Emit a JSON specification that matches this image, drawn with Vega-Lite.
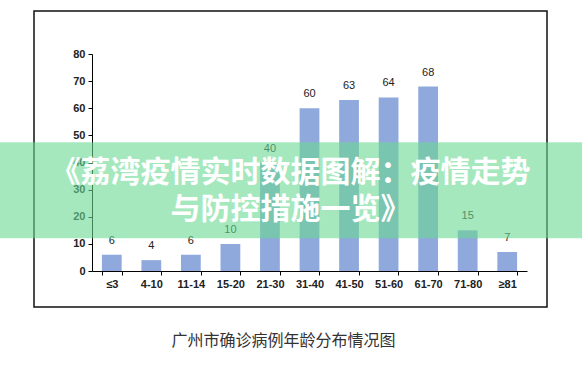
{
  "$schema": "https://vega.github.io/schema/vega-lite/v6.json",
  "width": 513,
  "height": 296,
  "autosize": "none",
  "padding": {"left": 34, "top": 11, "right": 35, "bottom": 73},
  "background": "white",
  "config": {
    "view": {"stroke": "#111111", "strokeWidth": 1.5},
    "font": "Liberation Sans"
  },
  "title": {
    "text": "广州市确诊病例年龄分布情况图",
    "orient": "bottom",
    "anchor": "middle",
    "offset": 26,
    "dx": -7,
    "font": "Noto Sans CJK SC",
    "fontSize": 16,
    "fontWeight": "normal",
    "color": "#333333"
  },
  "layer": [
    {
      "data": {
        "values": [
          {"age": "≤3", "cases": 6},
          {"age": "4-10", "cases": 4},
          {"age": "11-14", "cases": 6},
          {"age": "15-20", "cases": 10},
          {"age": "21-30", "cases": 40},
          {"age": "31-40", "cases": 60},
          {"age": "41-50", "cases": 63},
          {"age": "51-60", "cases": 64},
          {"age": "61-70", "cases": 68},
          {"age": "71-80", "cases": 15},
          {"age": "≥81", "cases": 7}
        ]
      },
      "encoding": {
        "x": {
          "field": "age",
          "type": "nominal",
          "sort": null,
          "scale": {"range": [58, 493], "paddingInner": 0.5, "paddingOuter": 0.25},
          "axis": {
            "title": null,
            "labelAngle": 0,
            "tickBand": "extent",
            "offset": -36,
            "domainColor": "#000000",
            "tickColor": "#000000",
            "tickSize": 4,
            "labelPadding": 3,
            "labelOverlap": false,
            "labelFont": "Liberation Sans",
            "labelFontSize": 11,
            "labelFontWeight": "bold",
            "labelColor": "#222222"
          }
        },
        "y": {
          "field": "cases",
          "type": "quantitative",
          "scale": {"domain": [0, 80], "range": [260, 43], "nice": false},
          "axis": {
            "title": null,
            "values": [0, 10, 20, 30, 40, 50, 60, 70, 80],
            "grid": false,
            "offset": -58,
            "labelOverlap": false,
            "labelFlush": false,
            "domainColor": "#000000",
            "tickColor": "#000000",
            "tickSize": 4,
            "labelPadding": 3,
            "labelFont": "Liberation Sans",
            "labelFontSize": 11,
            "labelFontWeight": "bold",
            "labelColor": "#222222"
          }
        }
      },
      "layer": [
        {"mark": {"type": "bar", "color": "#8FA9DC"}},
        {
          "mark": {"type": "text", "baseline": "middle", "dy": -14, "fontSize": 11, "color": "#222222", "font": "Liberation Sans"},
          "encoding": {"text": {"field": "cases", "type": "quantitative"}}
        }
      ]
    },
    {
      "data": {"values": [{}]},
      "mark": {"type": "rect", "color": "#6BD993", "opacity": 0.6, "x": -34, "x2": 548},
      "encoding": {
        "y": {
          "datum": 47.5,
          "type": "quantitative",
          "axis": {
            "title": null,
            "values": [0, 10, 20, 30, 40, 50, 60, 70, 80],
            "grid": false,
            "offset": -58,
            "labelOverlap": false,
            "labelFlush": false,
            "domainColor": "#000000",
            "tickColor": "#000000",
            "tickSize": 4,
            "labelPadding": 3,
            "labelFont": "Liberation Sans",
            "labelFontSize": 11,
            "labelFontWeight": "bold",
            "labelColor": "#222222"
          }
        },
        "y2": {"datum": 12.1}
      }
    },
    {
      "data": {"values": [{}]},
      "mark": {
        "type": "text",
        "align": "center",
        "baseline": "middle",
        "font": "Noto Sans CJK SC",
        "fontSize": 30,
        "fontWeight": "bold",
        "lineHeight": 37,
        "color": "#FFFFFF"
      },
      "encoding": {
        "y": {
          "datum": 36.1,
          "type": "quantitative",
          "axis": {
            "title": null,
            "values": [0, 10, 20, 30, 40, 50, 60, 70, 80],
            "grid": false,
            "offset": -58,
            "labelOverlap": false,
            "labelFlush": false,
            "domainColor": "#000000",
            "tickColor": "#000000",
            "tickSize": 4,
            "labelPadding": 3,
            "labelFont": "Liberation Sans",
            "labelFontSize": 11,
            "labelFontWeight": "bold",
            "labelColor": "#222222"
          }
        },
        "text": {"value": ["《荔湾疫情实时数据图解：疫情走势", "与防控措施一览》"]}
      }
    }
  ]
}
